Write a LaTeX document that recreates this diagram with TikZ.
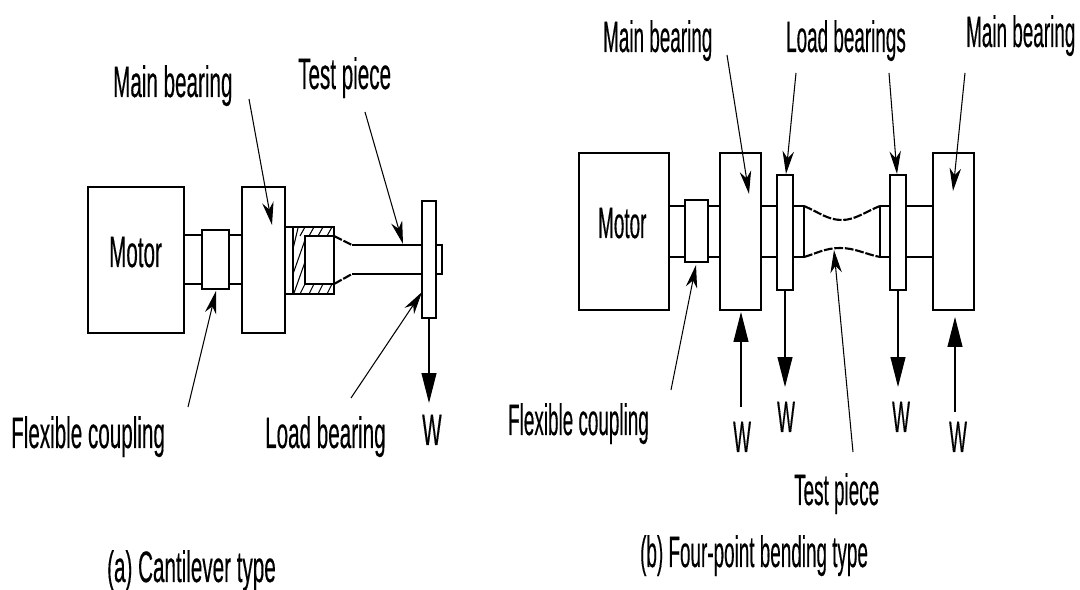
\documentclass[tikz,border=0pt]{standalone}
\usepackage{fontspec}
\newfontfamily\partfont[FakeBold=0.5]{Liberation Sans}
\usetikzlibrary{arrows.meta}
\tikzset{
	textbase/.style={font=\partfont\fontsize{25}{28}\selectfont, inner sep=0pt, anchor=base west, transform shape},
	parttext/.style={textbase, xscale=0.47},
	parttextb/.style={textbase, xscale=0.43},
	partline/.style={line width=1pt},
	shaftline/.style={line width=1.4pt},
	taperline/.style={line width=1.2pt, dash pattern=on 5pt off 1pt},
	leader/.style={line width=0.6pt, -{Stealth[length=13pt, width=6.5pt, inset=4pt]}},
	loadarrow/.style={line width=0.6pt, -{Triangle[length=17pt, width=8.5pt]}},
}
\begin{document}
\begin{tikzpicture}[x=0.02cm, y=-0.02cm]
	\useasboundingbox (0,0) rectangle (1080,590);
	% (a) cantilever type
	\draw[partline] (88,187) rectangle (184,333);
	\draw[partline] (202,230) rectangle (229,289);
	\draw[partline] (242,187) rectangle (285,333);
	\draw[partline] (422,201) rectangle (436,318);
	\draw[partline] (436,245) -- (442,245) -- (442,274) -- (436,274);
	\draw[shaftline] (184,235) -- (202,235);
	\draw[shaftline] (184,284) -- (202,284);
	\draw[shaftline] (229,235) -- (242,235);
	\draw[shaftline] (229,284) -- (242,284);
	\draw[shaftline] (285,227) -- (334,227) -- (334,294) -- (285,294);
	\draw[partline] (305,236) rectangle (334,284);
	\draw[partline] (293,227) -- (293,294);
	\foreach \x in {300,309,318,327} {
		\draw[line width=0.6pt] (\x,236) -- (\x+5,227);
		\draw[line width=0.6pt] (\x,294) -- (\x+5,284);
	}
	\draw[line width=0.6pt] (293,249) -- (298,228);
	\draw[line width=0.6pt] (293,274) -- (305,240);
	\draw[line width=0.6pt] (294,293) -- (305,262);
	\draw[taperline] (334,236) -- (352,245);
	\draw[taperline] (334,284) -- (352,274);
	\draw[shaftline] (352,245) -- (422,245);
	\draw[shaftline] (352,274) -- (422,274);
	\node[parttext] (motorA) at (109,267) {Motor};
	\node[parttext] (mainA) at (113,97) {Main bearing};
	\node[parttext] (testA) at (298,89) {Test piece};
	\node[parttext] (flexA) at (11,448) {Flexible coupling};
	\node[parttext] (loadA) at (265,448) {Load bearing};
	\node[parttext] (wA) at (422,445) {W};
	\node[parttext] (capA) at (107,582) {(a) Cantilever type};
	\coordinate (mainAs) at (249,99);
	\coordinate (mainAt) at (272,225);
	\coordinate (testAs) at (365,112);
	\coordinate (testAt) at (403,244);
	\coordinate (flexAs) at (188,407);
	\coordinate (flexAt) at (216,291);
	\coordinate (loadAs) at (351,398);
	\coordinate (loadAt) at (422,292);
	\coordinate (wAs) at (429,318);
	\coordinate (wAt) at (429,403);
	\draw[leader] (mainAs) -- (mainAt);
	\draw[leader] (testAs) -- (testAt);
	\draw[leader] (flexAs) -- (flexAt);
	\draw[leader] (loadAs) -- (loadAt);
	\draw[loadarrow] (wAs) -- (wAt);
	% (b) four-point bending type
	\draw[partline] (579,153) rectangle (669,310);
	\draw[partline] (685,200) rectangle (708,262);
	\draw[partline] (720,153) rectangle (761,310);
	\draw[partline] (777,175) rectangle (793,290);
	\draw[partline] (890,175) rectangle (906,290);
	\draw[partline] (933,153) rectangle (974,310);
	\foreach \ya in {206,257} {
		\draw[shaftline] (669,\ya) -- (685,\ya);
		\draw[shaftline] (708,\ya) -- (720,\ya);
		\draw[shaftline] (761,\ya) -- (777,\ya);
		\draw[shaftline] (793,\ya) -- (804,\ya);
		\draw[shaftline] (880,\ya) -- (890,\ya);
		\draw[shaftline] (906,\ya) -- (933,\ya);
	}
	\draw[partline] (804,206) -- (804,257);
	\draw[partline] (880,206) -- (880,257);
	\draw[taperline] (804,206) .. controls (820,213) and (828,220) .. (842,220) .. controls (855,220) and (865,212) .. (880,206);
	\draw[taperline] (804,257) .. controls (815,254) and (825,248) .. (840,248) .. controls (855,248) and (865,254) .. (880,257);
	\node[parttextb] (motorB) at (598,238) {Motor};
	\node[parttextb] (mainB) at (603,52) {Main bearing};
	\node[parttextb] (loadB) at (786,52) {Load bearings};
	\node[parttextb] (mainC) at (966,47) {Main bearing};
	\node[parttextb] (flexB) at (508,435) {Flexible coupling};
	\node[parttextb] (testB) at (794,505) {Test piece};
	\node[parttextb] (capB) at (640,567) {(b) Four-point bending type};
	\node[parttextb] (wB) at (733,452) {W};
	\node[parttextb] (wC) at (777,432) {W};
	\node[parttextb] (wD) at (892,432) {W};
	\node[parttextb] (wE) at (949,452) {W};
	\coordinate (mainBs) at (727,55);
	\coordinate (mainBt) at (749,194);
	\coordinate (loadBs) at (796,73);
	\coordinate (loadBt) at (786,174);
	\coordinate (loadCs) at (889,73);
	\coordinate (loadCt) at (897,174);
	\coordinate (mainCs) at (965,73);
	\coordinate (mainCt) at (953,191);
	\coordinate (flexBs) at (671,390);
	\coordinate (flexBt) at (696,265);
	\coordinate (testBs) at (853,452);
	\coordinate (testBt) at (834,250);
	\coordinate (wBs) at (741,407);
	\coordinate (wBt) at (741,312);
	\coordinate (wCs) at (785,290);
	\coordinate (wCt) at (785,387);
	\coordinate (wDs) at (898,290);
	\coordinate (wDt) at (898,387);
	\coordinate (wEs) at (955,412);
	\coordinate (wEt) at (955,317);
	\draw[leader] (mainBs) -- (mainBt);
	\draw[leader] (loadBs) -- (loadBt);
	\draw[leader] (loadCs) -- (loadCt);
	\draw[leader] (mainCs) -- (mainCt);
	\draw[leader] (flexBs) -- (flexBt);
	\draw[leader] (testBs) -- (testBt);
	\draw[loadarrow] (wBs) -- (wBt);
	\draw[loadarrow] (wCs) -- (wCt);
	\draw[loadarrow] (wDs) -- (wDt);
	\draw[loadarrow] (wEs) -- (wEt);
\end{tikzpicture}
\end{document}
